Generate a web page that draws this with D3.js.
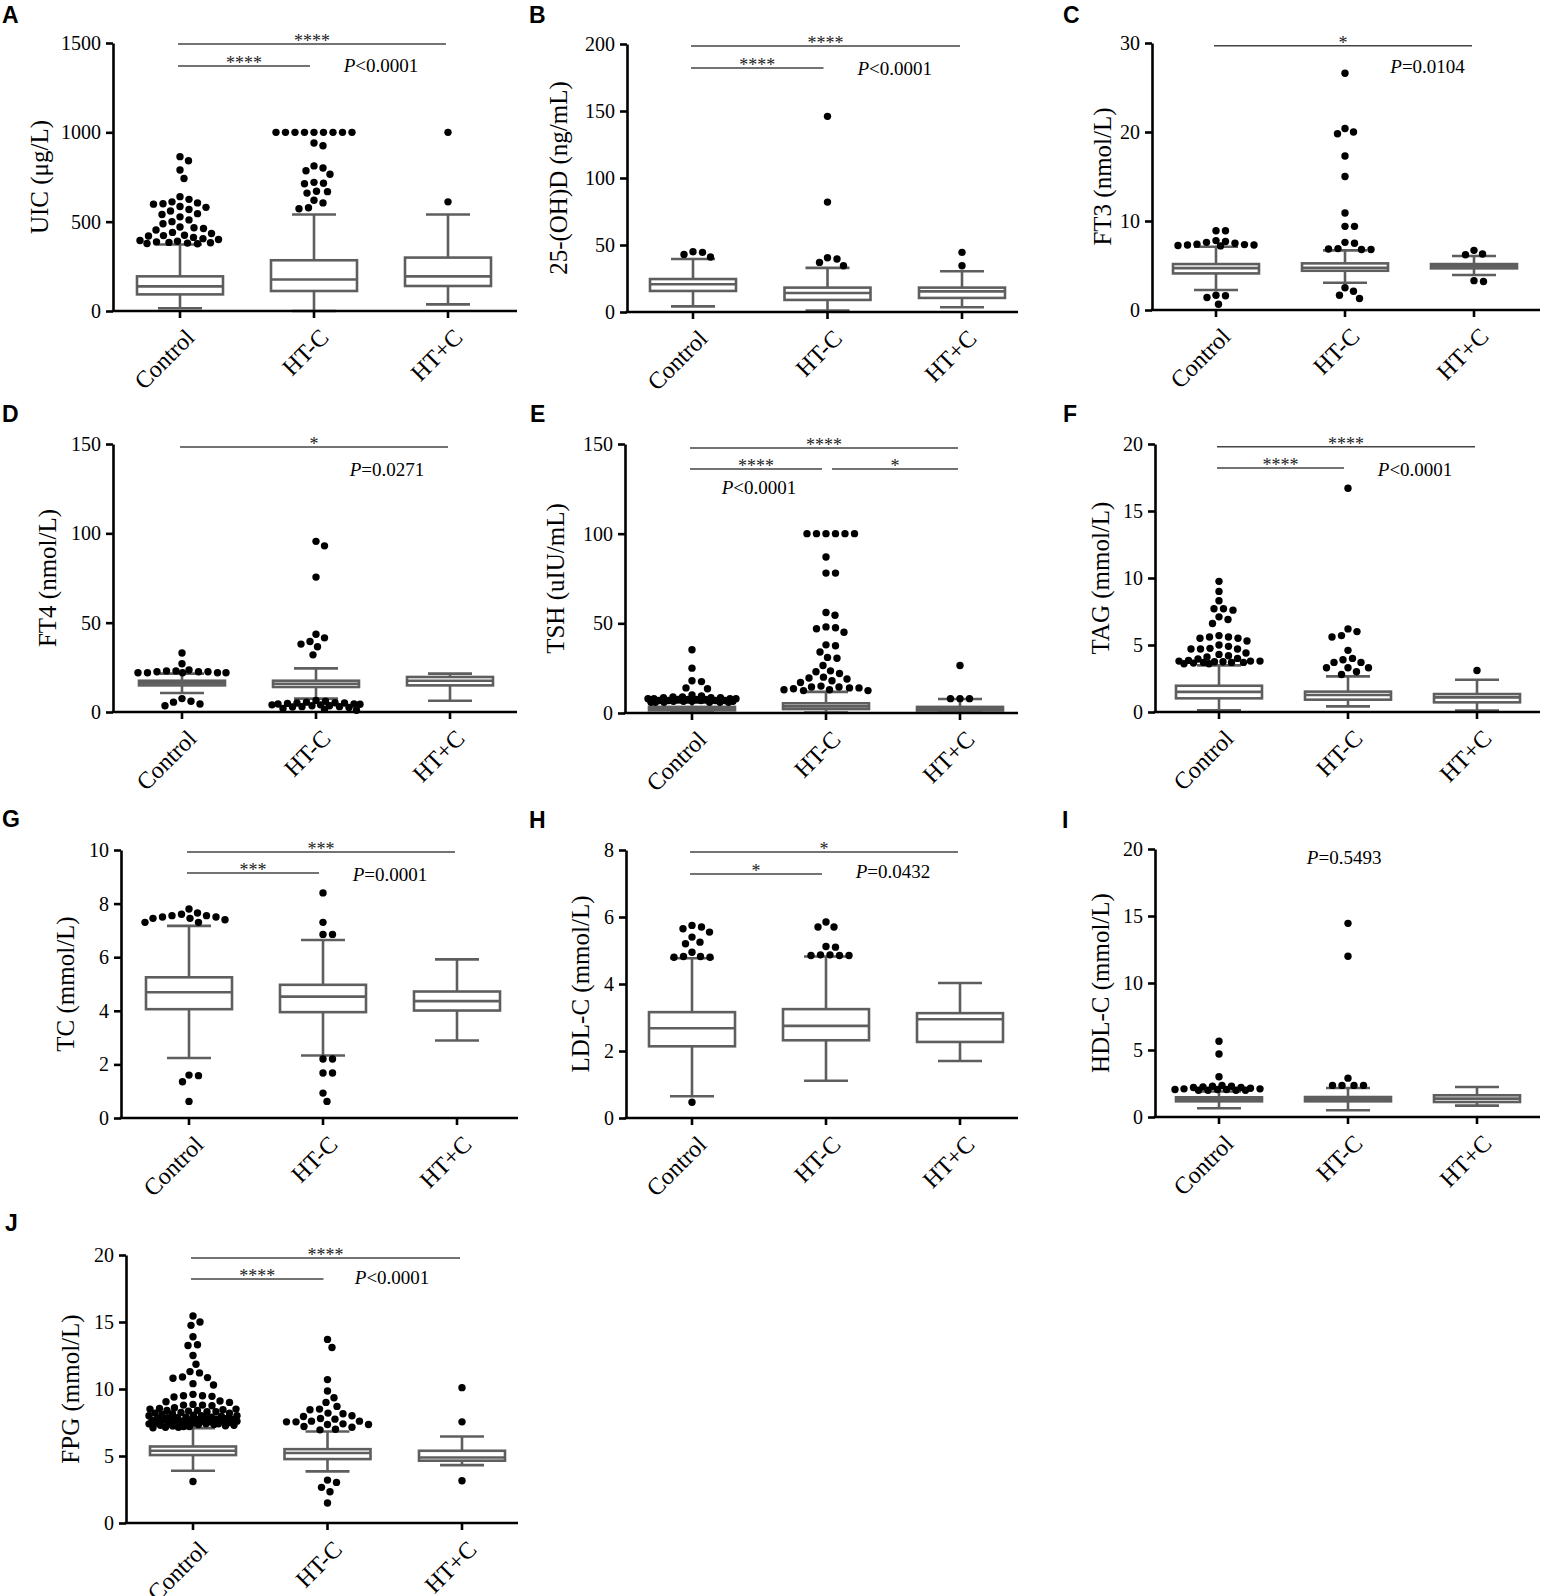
<!DOCTYPE html>
<html>
<head>
<meta charset="utf-8">
<script src="https://cdn.jsdelivr.net/npm/d3@7"></script>
<style>
  body { margin: 0; background: #fff; }
  text { font-family: "Liberation Serif", "Times New Roman", serif; }
</style>
</head>
<body>
<div id="chart"></div>
<script>
// ---- data ----
var groups = ["Control", "HT-C", "HT+C"];
var letters = ["A", "B", "C", "D", "E", "F", "G", "H", "I", "J"];
var titles = ["UIC (\u03bcg/L)", "25-(OH)D (ng/mL)", "FT3 (nmol/L)", "FT4 (nmol/L)", "TSH (uIU/mL)",
              "TAG (mmol/L)", "TC (mmol/L)", "LDL-C (mmol/L)", "HDL-C (mmol/L)", "FPG (mmol/L)"];
var yTicks = [[0, 500, 1000, 1500], [0, 50, 100, 150, 200], [0, 10, 20, 30], [0, 50, 100, 150],
              [0, 50, 100, 150], [0, 5, 10, 15, 20], [0, 2, 4, 6, 8, 10], [0, 2, 4, 6, 8],
              [0, 5, 10, 15, 20], [0, 5, 10, 15, 20]];
var pValues = ["<0.0001", "<0.0001", "=0.0104", "=0.0271", "<0.0001", "<0.0001", "=0.0001", "=0.0432", "=0.5493", "<0.0001"];
// significance: [stars, from group, to group]
var signif = [
  [["****", 0, 2], ["****", 0, 1]],
  [["****", 0, 2], ["****", 0, 1]],
  [["*", 0, 2]],
  [["*", 0, 2]],
  [["****", 0, 2], ["****", 0, 1], ["*", 1, 2]],
  [["****", 0, 2], ["****", 0, 1]],
  [["***", 0, 2], ["***", 0, 1]],
  [["*", 0, 2], ["*", 0, 1]],
  [],
  [["****", 0, 2], ["****", 0, 1]]
];

// box stats per group: [low whisker, Q1, median, Q3, high whisker]
var uicBox = [[15, 93, 138, 194, 372], [0, 112, 176, 284, 540], [37, 140, 194, 299, 540]];
var uicOut = [
  [864, 841, 789, 742, 640, 625, 611, 605, 600, 598, 585, 580, 568, 560, 545, 540, 527, 510, 500, 488,
   470, 466, 462, 453, 440, 434, 424, 422, 420, 412, 405, 400, 395, 390, 386, 384, 382, 380, 378, 376],
  [1000, 1000, 1000, 1000, 1000, 1000, 1000, 1000, 1000, 940, 925, 812, 800, 785, 765, 720, 715, 712,
   670, 668, 660, 620, 605, 578, 572],
  [1000, 611]
];
var vitdBox = [[4.2, 15.7, 20.7, 24.6, 39.6], [1, 9, 14.2, 18.2, 32.9], [3.5, 10.5, 15.4, 18.2, 30.4]];
var vitdOut = [[45, 44.5, 43, 41], [146, 82, 40.5, 39.5, 37, 34.5], [44.5, 34.5]];
var ft3Box = [[2.24, 4.11, 4.7, 5.16, 7.1], [3.07, 4.41, 4.75, 5.24, 6.7], [3.93, 4.68, 4.94, 5.16, 6.06]];
var ft3Out = [
  [8.9, 8.9, 7.8, 7.7, 7.6, 7.5, 7.4, 7.35, 7.3, 7.3, 7.25, 7.2, 1.65, 1.6, 1.4, 0.65],
  [26.6, 20.4, 20.0, 19.8, 17.3, 15.0, 10.9, 9.4, 9.4, 7.6, 7.5, 6.9, 6.85, 6.8, 6.8, 2.5, 2.1, 1.65, 1.3],
  [6.7, 6.3, 6.2, 3.3, 3.2]
];
var ft4Box = [[10.6, 14.9, 16.2, 17.5, 21.5], [7.5, 14, 15.8, 17.5, 24.4], [6.3, 14.9, 17.5, 19.6, 21.5]];
var ft4Out = [
  [33, 27, 23.5, 23, 23, 22.5, 22.5, 22.5, 22, 22, 22, 22, 22, 7.5, 6, 5.5, 4.5, 3.5],
  [95.5, 93, 75.5, 43.5, 41.5, 39.5, 38, 36.5, 32, 6.5, 6, 5.5, 5.2, 5, 5, 4.8, 4.5, 4.5, 4.3, 4, 4,
   3.5, 3.5, 3, 3, 2.8, 2.5, 2, 1.5, 1],
  []
];
var tshBox = [[0.3, 1.5, 2.4, 3.4, 5.8], [0.3, 2.2, 3.7, 5.4, 11.8], [0.3, 1.4, 2.1, 3.4, 7.8]];
var tshOut = [
  [35.3, 25, 18, 17.5, 14, 13.5, 10, 9.5, 9, 9, 8.5, 8.5, 8.5, 8, 8, 8, 8, 7.5, 7.5, 7.5, 7.5, 7, 7, 7,
   7, 7, 6.5, 6.5, 6.5, 6.5, 6, 6, 6, 6, 6, 6],
  [100, 100, 100, 100, 100, 100, 87, 78, 78, 56, 54.5, 48, 47.5, 47, 45, 38, 37.5, 34, 31, 30.5, 26.5,
   23.5, 23, 22, 20, 19.5, 19, 18, 17, 15, 14.5, 14.5, 14, 14, 13.5, 13, 13, 12.5, 12.5],
  [26.5, 8, 8, 8]
];
var tagBox = [[0.12, 1.02, 1.5, 1.96, 3.48], [0.42, 0.92, 1.27, 1.52, 2.66], [0.1, 0.72, 1.09, 1.34, 2.41]];
var tagOut = [
  [9.75, 9, 8.3, 7.7, 7.7, 7.6, 7.1, 6.9, 6.6, 5.7, 5.6, 5.6, 5.5, 5.5, 5.3, 5.0, 4.9, 4.75, 4.7, 4.7,
   4.7, 4.4, 4.3, 4.2, 4.1, 4.0, 3.95, 3.85, 3.8, 3.8, 3.8, 3.75, 3.75, 3.7, 3.7, 3.7, 3.65, 3.6, 3.6],
  [16.7, 6.2, 6.0, 5.7, 5.6, 4.6, 4.0, 3.9, 3.7, 3.7, 3.3, 3.3, 3.3, 3.0, 2.8],
  [3.1]
];
var tcBox = [[2.24, 4.06, 4.69, 5.25, 7.17], [2.33, 3.95, 4.53, 4.97, 6.64], [2.89, 4.01, 4.36, 4.72, 5.92]];
var tcOut = [
  [7.8, 7.65, 7.6, 7.55, 7.55, 7.5, 7.5, 7.45, 7.45, 7.4, 7.3, 7.3, 1.6, 1.58, 1.35, 0.62],
  [8.4, 7.3, 6.85, 6.85, 2.2, 2.2, 1.68, 1.68, 0.93, 0.62],
  []
];
var ldlBox = [[0.65, 2.14, 2.68, 3.16, 4.77], [1.11, 2.32, 2.75, 3.25, 4.82], [1.7, 2.27, 2.95, 3.13, 4.03]];
var ldlOut = [
  [5.75, 5.7, 5.65, 5.55, 5.4, 5.25, 5.2, 4.95, 4.82, 4.82, 4.8, 4.8, 0.47],
  [5.85, 5.7, 5.7, 5.12, 5.1, 4.87, 4.87, 4.85, 4.85, 4.85],
  []
];
var hdlBox = [[0.65, 1.17, 1.34, 1.47, 1.9], [0.5, 1.17, 1.34, 1.49, 2.16], [0.85, 1.12, 1.37, 1.62, 2.24]];
var hdlOut = [
  [5.65, 4.7, 3.0, 2.35, 2.3, 2.3, 2.25, 2.2, 2.2, 2.15, 2.1, 2.1, 2.05, 2.05, 2.05, 2.0, 2.0, 2.0, 2.0],
  [14.45, 12, 2.9, 2.36, 2.36, 2.36, 2.36],
  []
];
var fpgBox = [[3.9, 5.07, 5.39, 5.71, 7.08], [3.85, 4.77, 5.22, 5.51, 6.83], [4.32, 4.65, 4.89, 5.39, 6.46]];
var fpgOut = [
  [15.45, 15.0, 14.75, 13.9, 13.3, 13.25, 12.5, 11.85, 11.3, 11.2, 10.9, 10.85, 10.8, 10.4, 10.3, 9.6,
   9.5, 9.5, 9.45, 9.4, 9.1, 9.05, 9.0, 8.85, 8.8, 8.8, 8.75, 8.6, 8.55, 8.5, 8.5, 8.45, 8.4, 8.4, 8.35,
   8.3, 8.3, 8.25, 8.2, 8.2, 8.15, 8.1, 8.05, 8.0, 8.0, 8.0, 7.95, 7.9, 7.9, 7.85, 7.85, 7.8, 7.8, 7.8,
   7.75, 7.75, 7.7, 7.7, 7.7, 7.65, 7.65, 7.6, 7.6, 7.6, 7.6, 7.55, 7.55, 7.5, 7.5, 7.5, 7.45, 7.45,
   7.4, 7.4, 7.4, 7.35, 7.35, 7.3, 7.3, 7.25, 7.25, 7.2, 7.2, 7.15, 7.15, 7.1, 3.1],
  [13.7, 13.1, 10.7, 9.85, 9.35, 9.0, 8.7, 8.5, 8.45, 8.2, 8.15, 8.0, 7.95, 7.8, 7.75, 7.6, 7.6, 7.55,
   7.55, 7.4, 7.35, 7.35, 7.2, 7.15, 7.0, 6.95, 3.2, 3.03, 2.66, 2.33, 1.49],
  [10.1, 7.55, 3.15]
];

var boxes = [uicBox, vitdBox, ft3Box, ft4Box, tshBox, tagBox, tcBox, ldlBox, hdlBox, fpgBox];
var outliers = [uicOut, vitdOut, ft3Out, ft4Out, tshOut, tagOut, tcOut, ldlOut, hdlOut, fpgOut];

// ---- layout (pixels) ----
// ax: y axis x, top/bottom: plot range, first/step: group centres, right: end of x axis
var layout = [
  {ax: 113, top: 43,   bottom: 311,  first: 180, step: 134,   right: 517,  tx: 39,   lx: 2,    ly: 23},
  {ax: 627, top: 44,   bottom: 312,  first: 693, step: 134.5, right: 1018, tx: 558,  lx: 529,  ly: 23},
  {ax: 1152, top: 43,  bottom: 310,  first: 1216, step: 129,  right: 1540, tx: 1102, lx: 1063, ly: 23},
  {ax: 113, top: 444,  bottom: 712,  first: 182, step: 134,   right: 517,  tx: 47,   lx: 2,    ly: 422},
  {ax: 625, top: 444,  bottom: 713,  first: 692, step: 134,   right: 1018, tx: 555,  lx: 530,  ly: 422},
  {ax: 1155, top: 444, bottom: 712,  first: 1219, step: 129,  right: 1540, tx: 1100, lx: 1063, ly: 422},
  {ax: 121, top: 850,  bottom: 1118, first: 189, step: 134,   right: 518,  tx: 65,   lx: 2,    ly: 827},
  {ax: 626, top: 850,  bottom: 1118, first: 692, step: 134,   right: 1018, tx: 580,  lx: 529,  ly: 828},
  {ax: 1155, top: 849, bottom: 1117, first: 1219, step: 129,  right: 1540, tx: 1100, lx: 1062, ly: 828},
  {ax: 126, top: 1255, bottom: 1523, first: 193, step: 134.5, right: 518,  tx: 70,   lx: 5,    ly: 1231}
];
// bracket heights and p-label position, in axis units
var bracketY = [[1494, 1371], [198.5, 182], [29.7], [148.3], [147.8, 136, 136], [19.8, 18.2],
                [9.93, 9.14], [7.94, 7.28], [], [19.78, 18.2]];
var pPos = [[1.5, 1338], [1.5, 177], [1.64, 26.6], [1.53, 132], [0.5, 122], [1.52, 17.6],
            [1.5, 8.84], [1.5, 7.16], [0.97, 18.9], [1.48, 17.8]];

var boxW = 86, capW = 44, boxColor = "#5e5e5e", lw = 2.6, dotR = 3.7;

var svg = d3.select("#chart").append("svg")
    .attr("width", 1563)
    .attr("height", 1596);

// simple beeswarm: nearest free horizontal offset, else the least crowded one
function swarm(vals, y, cx) {
  var placed = [];
  var minD = 9.2, maxOff = 44;
  vals.forEach(function(v) {
    var py = y(v);
    var best = 0, bestD = -1;
    for (var k = 0; k <= maxOff * 4; k++) {
      var off = (k % 2 ? 1 : -1) * Math.ceil(k / 2) * 0.5;
      var d = Infinity;
      placed.forEach(function(p) {
        d = Math.min(d, Math.hypot(p[0] - (cx + off), p[1] - py));
      });
      if (d >= minD) { best = off; bestD = d; break; }
      if (d > bestD) { bestD = d; best = off; }
    }
    placed.push([cx + best, py]);
  });
  return placed;
}

letters.forEach(function(letter, i) {
  var L = layout[i];
  var ticks = yTicks[i];
  var g = svg.append("g");

  var y = d3.scaleLinear()
      .domain([0, ticks[ticks.length - 1]])
      .range([L.bottom, L.top]);
  var x = d3.scalePoint()
      .domain(groups)
      .range([L.first, L.first + 2 * L.step]);

  // panel letter
  svg.append("text")
      .attr("x", L.lx).attr("y", L.ly)
      .style("font-family", "'Liberation Sans', Arial, sans-serif")
      .style("font-weight", "bold")
      .style("font-size", "23px")
      .text(letter);

  // boxes and whiskers
  boxes[i].forEach(function(b, gi) {
    var cx = x(groups[gi]);
    var bg = g.append("g")
        .attr("stroke", boxColor)
        .attr("stroke-width", lw)
        .attr("fill", "none");
    bg.append("line").attr("x1", cx).attr("x2", cx).attr("y1", y(b[3])).attr("y2", y(b[4]));
    bg.append("line").attr("x1", cx).attr("x2", cx).attr("y1", y(b[1])).attr("y2", y(b[0]));
    bg.append("line").attr("x1", cx - capW / 2).attr("x2", cx + capW / 2).attr("y1", y(b[4])).attr("y2", y(b[4]));
    bg.append("line").attr("x1", cx - capW / 2).attr("x2", cx + capW / 2).attr("y1", y(b[0])).attr("y2", y(b[0]));
    bg.append("rect")
        .attr("x", cx - boxW / 2)
        .attr("y", y(b[3]))
        .attr("width", boxW)
        .attr("height", y(b[1]) - y(b[3]))
        .attr("fill", "#fff");
    bg.append("line").attr("x1", cx - boxW / 2).attr("x2", cx + boxW / 2).attr("y1", y(b[2])).attr("y2", y(b[2]));
  });

  // outlier dots
  outliers[i].forEach(function(vals, gi) {
    var pts = swarm(vals, y, x(groups[gi]));
    g.selectAll(null)
        .data(pts)
        .enter()
        .append("circle")
        .attr("cx", function(d) { return d[0]; })
        .attr("cy", function(d) { return d[1]; })
        .attr("r", dotR)
        .attr("fill", "#000");
  });

  // y axis
  var yAxis = g.append("g")
      .attr("transform", "translate(" + L.ax + ",0)")
      .call(d3.axisLeft(y).tickValues(ticks).tickFormat(d3.format("d"))
              .tickSize(7).tickSizeOuter(0).tickPadding(5));
  yAxis.selectAll("path, line").attr("stroke", "#000").attr("stroke-width", lw);
  yAxis.selectAll("text")
      .style("font-family", "'Liberation Serif', 'Times New Roman', serif")
      .style("font-size", "20px")
      .attr("fill", "#000");

  // x axis
  g.append("line")
      .attr("x1", L.ax - lw / 2).attr("x2", L.right)
      .attr("y1", L.bottom).attr("y2", L.bottom)
      .attr("stroke", "#000").attr("stroke-width", lw);
  groups.forEach(function(name) {
    var cx = x(name);
    g.append("line")
        .attr("x1", cx).attr("x2", cx)
        .attr("y1", L.bottom).attr("y2", L.bottom + 7)
        .attr("stroke", "#000").attr("stroke-width", lw);
    g.append("text")
        .attr("transform", "translate(" + (cx + 16) + "," + (L.bottom + 28) + ") rotate(-45)")
        .attr("text-anchor", "end")
        .style("font-size", "24px")
        .text(name);
  });

  // axis title
  g.append("text")
      .attr("transform", "translate(" + L.tx + "," + ((L.top + L.bottom) / 2) + ") rotate(-90)")
      .attr("text-anchor", "middle")
      .attr("dy", "0.35em")
      .style("font-size", "25px")
      .text(titles[i]);

  // significance brackets
  signif[i].forEach(function(s, si) {
    var x1 = x(groups[s[1]]) - 2, x2 = x(groups[s[2]]) - 2;
    if (s[2] - s[1] === 1) {
      if (s[1] === 1) x1 += 8;
      if (s[2] === 1) x2 -= 2;
    }
    var by = y(bracketY[i][si]);
    g.append("line")
        .attr("x1", x1).attr("x2", x2)
        .attr("y1", by).attr("y2", by)
        .attr("stroke", "#444").attr("stroke-width", 1.5);
    g.append("text")
        .attr("x", (x1 + x2) / 2)
        .attr("y", by + 3)
        .attr("text-anchor", "middle")
        .attr("fill", "#222")
        .style("font-size", "18px")
        .text(s[0]);
  });

  // p value
  var pt = g.append("text")
      .attr("x", L.first + pPos[i][0] * L.step)
      .attr("y", y(pPos[i][1]))
      .attr("text-anchor", "middle")
      .style("font-size", "19px");
  pt.append("tspan").style("font-style", "italic").text("P");
  pt.append("tspan").text(pValues[i]);
});
</script>
</body>
</html>
